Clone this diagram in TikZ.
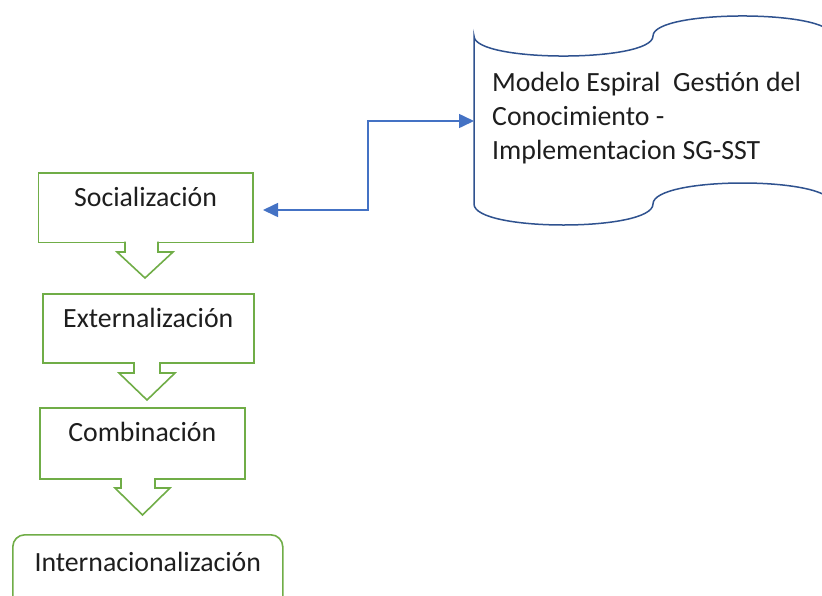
\documentclass[tikz,border=0pt]{standalone}
\usepackage{fontspec}
\setmainfont{Carlito}
\usetikzlibrary{arrows.meta}
\definecolor{offgreen}{HTML}{70AD47}
\definecolor{offblue}{HTML}{4472C4}
\definecolor{tapeblue}{HTML}{2F528F}
\definecolor{txt}{HTML}{1E1E1E}
\tikzset{
  stagebox/.style={draw=offgreen, line width=1.6pt, fill=white, anchor=north west,
    inner sep=0pt, text height=34pt, align=center, text=txt,
    font=\fontsize{27.8}{33}\selectfont},
  greenline/.style={draw=offgreen, line width=1.6pt, line join=miter},
  tapeline/.style={draw=tapeblue, line width=1.5pt},
  conn/.style={draw=offblue, line width=1.6pt,
    {Triangle[length=15pt,width=14pt]}-{Triangle[length=15pt,width=14pt]}},
}
\newcommand\blkarrow[7]{%
  \fill[white] (#2,#1-1.5) -- (#2,#6) -- (#4,#6) -- ({(#4+#5)/2},#7) -- (#5,#6) -- (#3,#6) -- (#3,#1-1.5) -- cycle;
  \draw[greenline] (#2,#1) -- (#2,#6) -- (#4,#6) -- ({(#4+#5)/2},#7) -- (#5,#6) -- (#3,#6) -- (#3,#1);}
\begin{document}
\begin{tikzpicture}[x=1pt,y=-1pt]
\useasboundingbox (0,0) rectangle (822,595);
\clip (0,0) rectangle (822,595);
% tape shape
\draw[tapeline, fill=white] (474,36) .. controls (474,62.7) and (653,62.7) .. (653,36)
  .. controls (653,9.3) and (832,9.3) .. (832,36) -- (832,204)
  .. controls (832,176) and (653,176) .. (653,204)
  .. controls (653,232) and (474,232) .. (474,204) -- cycle;
\node[anchor=base west, inner sep=0pt, align=left, text=txt,
  font=\fontsize{27.8}{34}\selectfont] (tapetxt) at (492,159)
  {Modelo Espiral\ \ Gestión del\\Conocimiento -\\Implementacion SG-SST};
% stage boxes
\node[stagebox, minimum width=214.5pt, text depth=35.5pt] (soc) at (37.5,172) {Socialización};
\node[stagebox, minimum width=211pt, text depth=35pt] (ext) at (42,293) {Externalización};
\node[stagebox, minimum width=205pt, text depth=37pt] (com) at (39,407) {Combinación};
\node[stagebox, rounded corners=12pt, minimum width=270pt, text height=37pt, text depth=40pt] (int) at (12,534) {Internacionalización};
% block arrows
\blkarrow{241.5}{125}{158}{117}{173}{252}{278}
\blkarrow{362}{134}{160}{119}{175}{373}{400}
\blkarrow{478}{121}{155}{115}{170}{488}{515}
% connector
\coordinate (sc) at (263,210);
\coordinate (tp) at (474,121);
\draw[conn] (sc) -- ++(105,0) |- (tp);
\end{tikzpicture}
\end{document}
